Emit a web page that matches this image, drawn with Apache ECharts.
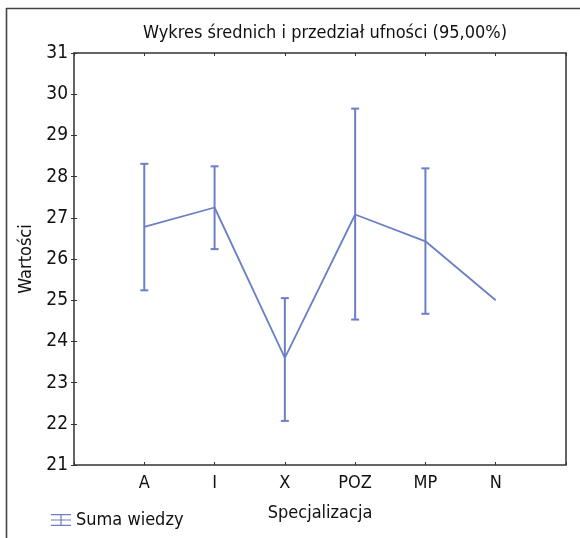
<!DOCTYPE html>
<html>
<head>
<meta charset="utf-8">
<script src="https://cdn.jsdelivr.net/npm/echarts@6/dist/echarts.min.js"></script>
<style>
  html, body { margin: 0; padding: 0; background: #fff; }
  #chart { width: 580px; height: 538px; }
</style>
</head>
<body>
<div id="chart"></div>
<script>
const categories = ['A', 'I', 'X', 'POZ', 'MP', 'N']
const means = [26.78, 27.25, 23.6, 27.08, 26.43, 25.0]
const lower = [25.24, 26.24, 22.07, 24.53, 24.67, null]
const upper = [28.31, 28.25, 25.05, 29.65, 28.2, null]
const yTicks = [21, 31, 1]   // min, max, step

const FONT = '"Liberation Sans Narrow", "DejaVu Sans Condensed", "Roboto", sans-serif'
const BLUE = '#6b7fc6'

const lineData = means.map((m, i) => [i + 1, m])
const barData = []
lower.forEach((lo, i) => {
    if (lo != null) barData.push([i + 1, lo, upper[i]])
})

const chart = echarts.init(document.getElementById('chart'))

const option = {
    animation: false,
    textStyle: { fontFamily: FONT },
    title: {
        text: 'Wykres średnich i przedział ufności (95,00%)',
        left: 320,
        textAlign: 'center',
        top: 19,
        textStyle: { fontFamily: FONT, fontSize: 18, fontWeight: 'normal', color: '#111' }
    },
    legend: {
        left: 46,
        top: 506,
        itemWidth: 20,
        itemHeight: 12,
        itemGap: 10,
        textStyle: { fontFamily: FONT, fontSize: 18, color: '#111' },
        data: [{
            name: 'Suma wiedzy',
            icon: 'path://M0,0h20v1.2h-20z M0,5.4h20v1.2h-20z M0,10.8h20v1.2h-20z M9.4,0h1.2v12h-1.2z',
            itemStyle: { color: BLUE }
        }]
    },
    grid: {
        left: 74, right: 14, top: 53, bottom: 73,
        show: true,
        borderColor: '#333',
        borderWidth: 1.5
    },
    xAxis: [
        {
            type: 'value',
            min: 0, max: 7, interval: 1,
            name: 'Specjalizacja',
            nameLocation: 'middle',
            nameGap: 39,
            nameTextStyle: { fontFamily: FONT, fontSize: 18, color: '#111' },
            axisLine: { show: false },
            axisTick: { show: true, inside: true, length: 3, lineStyle: { color: '#333' } },
            splitLine: { show: false },
            axisLabel: {
                fontFamily: FONT, fontSize: 18, color: '#111', margin: 9,
                formatter: v => categories[v - 1] || ''
            }
        },
        {
            type: 'value',
            position: 'top',
            min: 0, max: 7, interval: 1,
            axisLine: { show: false },
            axisTick: { show: true, inside: true, length: 3, lineStyle: { color: '#333' } },
            axisLabel: { show: false },
            splitLine: { show: false }
        }
    ],
    yAxis: [
        {
            type: 'value',
            min: yTicks[0], max: yTicks[1], interval: yTicks[2],
            name: 'Wartości',
            nameLocation: 'middle',
            nameGap: 36,
            nameTextStyle: { fontFamily: FONT, fontSize: 18, color: '#111' },
            axisLine: { show: false },
            axisTick: { show: true, inside: true, length: 3, lineStyle: { color: '#333' } },
            splitLine: { show: false },
            axisLabel: { fontFamily: FONT, fontSize: 19, color: '#111', margin: 6 }
        },
        {
            type: 'value',
            position: 'right',
            min: yTicks[0], max: yTicks[1], interval: yTicks[2],
            axisLine: { show: false },
            axisTick: { show: true, inside: true, length: 3, lineStyle: { color: '#333' } },
            axisLabel: { show: false },
            splitLine: { show: false }
        }
    ],
    graphic: [
        { type: 'line', shape: { x1: 6.5, y1: 8, x2: 6.5, y2: 538 }, style: { stroke: '#444', lineWidth: 1.6 } },
        { type: 'line', shape: { x1: 6, y1: 8.5, x2: 580, y2: 8.5 }, style: { stroke: '#444', lineWidth: 1.6 } }
    ],
    series: [
        {
            name: 'Suma wiedzy',
            type: 'line',
            data: lineData,
            symbol: 'none',
            lineStyle: { color: BLUE, width: 1.8 },
            itemStyle: { color: BLUE },
            z: 3
        },
        {
            name: 'Suma wiedzy',
            type: 'custom',
            data: barData,
            z: 2,
            renderItem: (params, api) => {
                const x = api.value(0)
                const lo = api.coord([x, api.value(1)])
                const hi = api.coord([x, api.value(2)])
                const half = 4
                const style = { stroke: BLUE, lineWidth: 2 }
                return {
                    type: 'group',
                    children: [
                        { type: 'line', shape: { x1: hi[0], y1: hi[1], x2: lo[0], y2: lo[1] }, style },
                        { type: 'line', shape: { x1: hi[0] - half, y1: hi[1], x2: hi[0] + half, y2: hi[1] }, style },
                        { type: 'line', shape: { x1: lo[0] - half, y1: lo[1], x2: lo[0] + half, y2: lo[1] }, style }
                    ]
                }
            }
        }
    ]
}

chart.setOption(option)
</script>
</body>
</html>
